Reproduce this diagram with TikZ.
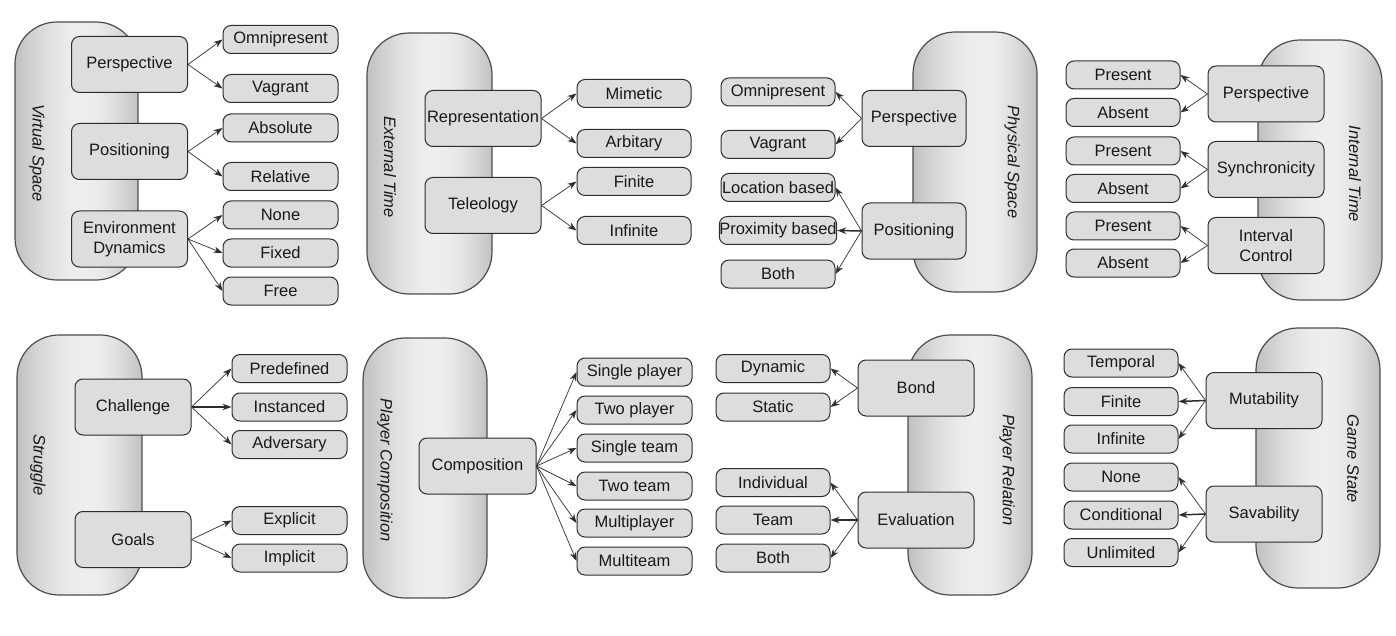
\documentclass[tikz,border=0pt]{standalone}
\usepackage{fontspec}
\setmainfont{Liberation Sans}
\usetikzlibrary{arrows.meta,calc}
\definecolor{boxfill}{RGB}{221,221,221}
\definecolor{edgec}{RGB}{45,45,45}
\definecolor{pillL}{RGB}{192,192,192}
\definecolor{pillM}{RGB}{238,238,238}
\definecolor{pillR}{RGB}{194,194,194}
\newcommand\pillstrips{%
  \coordinate (pbA) at (path picture bounding box.south west);
  \coordinate (pbB) at (path picture bounding box.south east);
  \coordinate (pbC) at (path picture bounding box.north west);
  \coordinate (pbD) at (path picture bounding box.north east);
  \foreach \i in {0,...,61}{%
    \pgfmathsetmacro\tA{\i/62}%
    \pgfmathsetmacro\tB{(\i+1.6)/62}%
    \pgfmathsetmacro\tM{(\i+0.5)/62}%
    \pgfmathsetmacro\wt{\tM<0.56 ? 100*sin(90*\tM/0.56) : 100*cos(90*(\tM-0.56)/0.44)}%
    \pgfmathsetmacro\sd{\tM<0.56 ? 0 : 1}%
    \ifdim\sd pt<0.5pt \colorlet{stripc}{pillM!\wt!pillL}\else\colorlet{stripc}{pillM!\wt!pillR}\fi
    \fill[stripc, sharp corners] ($(pbA)!\tA!(pbB)$) rectangle ($(pbC)!\tB!(pbD)$);
  }}
\begin{document}
\begin{tikzpicture}[x=1pt,y=-1pt,
  font=\fontsize{16.5}{19.5}\selectfont,
  pill/.style={draw=edgec!85, line width=1.2pt, rounded corners=42pt, inner sep=0pt,
    path picture={\pillstrips}},
  vlabel/.style={rotate=-90, font=\fontsize{16.5}{19.5}\selectfont\itshape, text=black!90},
  parent/.style={draw=edgec, fill=boxfill, line width=1pt, rounded corners=8pt,
    minimum width=116pt, minimum height=56pt, inner sep=0pt, align=center, text=black!90},
  child/.style={draw=edgec, fill=boxfill, line width=1pt, rounded corners=8pt,
    minimum width=115pt, minimum height=28pt, inner sep=0pt, text=black!90},
  arr/.style={draw=edgec, line width=0.7pt, -{Stealth[length=9pt,width=6.5pt]}},
  harr/.style={arr, line width=1.5pt}
]
\useasboundingbox (0,0) rectangle (1396,636);

% ---------------- Panel 1: Virtual Space
\node[pill, minimum width=123pt, minimum height=258pt] (vsp) at (76.5,151) {};
\node[vlabel] (vsl) at (37,153) {Virtual Space};
\node[parent] (vsa) at (129.5,64.5) {Perspective};
\node[parent] (vsb) at (129.5,151.5) {Positioning};
\node[parent] (vsc) at (129.5,239) {Environment\\Dynamics};
\node[child] (vs1) at (280.5,39.5) {Omnipresent};
\node[child] (vs2) at (280.5,88.5) {Vagrant};
\node[child] (vs3) at (280.5,128) {Absolute};
\node[child] (vs4) at (280.5,176.5) {Relative};
\node[child] (vs5) at (280.5,215) {None};
\node[child] (vs6) at (280.5,253) {Fixed};
\node[child] (vs7) at (280.5,291) {Free};
\draw[arr] (vsa.east) -- (vs1.west);
\draw[arr] (vsa.east) -- (vs2.west);
\draw[arr] (vsb.east) -- (vs3.west);
\draw[arr] (vsb.east) -- (vs4.west);
\draw[arr] (vsc.east) -- (vs5.west);
\draw[arr] (vsc.east) -- (vs6.west);
\draw[arr] (vsc.east) -- (vs7.west);

% ---------------- Panel 2: External Time
\node[pill, minimum width=125pt, minimum height=261pt] (etp) at (429.5,163.5) {};
\node[vlabel] (etl) at (390,167) {External Time};
\node[parent] (eta) at (483,118.5) {Representation};
\node[parent] (etb) at (483,205.5) {Teleology};
\node[child, minimum width=114pt] (et1) at (634,93.5) {Mimetic};
\node[child, minimum width=114pt] (et2) at (634,143.5) {Arbitary};
\node[child, minimum width=114pt] (et3) at (634,181.5) {Finite};
\node[child, minimum width=114pt] (et4) at (634,230.5) {Infinite};
\draw[arr] (eta.east) -- (et1.west);
\draw[arr] (eta.east) -- (et2.west);
\draw[arr] (etb.east) -- (et3.west);
\draw[arr] (etb.east) -- (et4.west);

% ---------------- Panel 3: Physical Space
\node[pill, minimum width=124pt, minimum height=260pt] (psp) at (975,162) {};
\node[vlabel] (psl) at (1012,162) {Physical Space};
\node[parent, minimum width=104pt] (psa) at (914,118.5) {Perspective};
\node[parent, minimum width=104pt] (psb) at (914,231) {Positioning};
\node[child, minimum width=114pt] (ps1) at (778,92) {Omnipresent};
\node[child, minimum width=114pt] (ps2) at (778,144.5) {Vagrant};
\node[child, minimum width=114pt] (ps3) at (778,187.5) {Location based};
\node[child, minimum width=114pt] (ps4) at (778,230.5) {Proximity based};
\node[child, minimum width=114pt] (ps5) at (778,274) {Both};
\draw[arr] (psa.west) -- (ps1.east);
\draw[arr] (psa.west) -- (ps2.east);
\draw[arr] (psb.west) -- (ps3.east);
\draw[harr] (psb.west) -- (ps4.east);
\draw[arr] (psb.west) -- (ps5.east);

% ---------------- Panel 4: Internal Time
\node[pill, minimum width=124pt, minimum height=260pt] (itp) at (1320,170) {};
\node[vlabel] (itl) at (1355,174) {Internal Time};
\node[parent] (ita) at (1266,94) {Perspective};
\node[parent] (itb) at (1266,169.5) {Synchronicity};
\node[parent] (itc) at (1266,245.5) {Interval\\Control};
\node[child, minimum width=114pt] (it1) at (1123,75) {Present};
\node[child, minimum width=114pt] (it2) at (1123,112.5) {Absent};
\node[child, minimum width=114pt] (it3) at (1123,151) {Present};
\node[child, minimum width=114pt] (it4) at (1123,188.5) {Absent};
\node[child, minimum width=114pt] (it5) at (1123,226) {Present};
\node[child, minimum width=114pt] (it6) at (1123,263) {Absent};
\draw[arr] (ita.west) -- (it1.east);
\draw[arr] (ita.west) -- (it2.east);
\draw[arr] (itb.west) -- (it3.east);
\draw[arr] (itb.west) -- (it4.east);
\draw[arr] (itc.west) -- (it5.east);
\draw[arr] (itc.west) -- (it6.east);

% ---------------- Panel 5: Struggle
\node[pill, minimum width=125pt, minimum height=260pt] (stp) at (79.5,465) {};
\node[vlabel] (stl) at (38,465) {Struggle};
\node[parent] (sta) at (133,407) {Challenge};
\node[parent] (stb) at (133,539.5) {Goals};
\node[child] (st1) at (289.5,368.5) {Predefined};
\node[child] (st2) at (289.5,407) {Instanced};
\node[child] (st3) at (289.5,444.5) {Adversary};
\node[child] (st4) at (289.5,520.5) {Explicit};
\node[child] (st5) at (289.5,558) {Implicit};
\draw[arr] (sta.east) -- (st1.west);
\draw[harr] (sta.east) -- (st2.west);
\draw[arr] (sta.east) -- (st3.west);
\draw[arr] (stb.east) -- (st4.west);
\draw[arr] (stb.east) -- (st5.west);

% ---------------- Panel 6: Player Composition
\node[pill, minimum width=124pt, minimum height=260pt] (pcp) at (425,468) {};
\node[vlabel] (pcl) at (385,470) {Player Composition};
\node[parent, minimum width=117pt] (pca) at (477.5,466) {Composition};
\node[child] (pc1) at (634.5,372) {Single player};
\node[child] (pc2) at (634.5,410) {Two player};
\node[child] (pc3) at (634.5,448) {Single team};
\node[child] (pc4) at (634.5,486) {Two team};
\node[child] (pc5) at (634.5,523) {Multiplayer};
\node[child] (pc6) at (634.5,561) {Multiteam};
\draw[arr] (pca.east) -- (pc1.west);
\draw[arr] (pca.east) -- (pc2.west);
\draw[arr] (pca.east) -- (pc3.west);
\draw[arr] (pca.east) -- (pc4.west);
\draw[arr] (pca.east) -- (pc5.west);
\draw[arr] (pca.east) -- (pc6.west);

% ---------------- Panel 7: Player Relation
\node[pill, minimum width=124pt, minimum height=260pt] (prp) at (970,465) {};
\node[vlabel] (prl) at (1007,470) {Player Relation};
\node[parent] (pra) at (916,388) {Bond};
\node[parent] (prb) at (916,520) {Evaluation};
\node[child, minimum width=114pt] (pr1) at (773,368.5) {Dynamic};
\node[child, minimum width=114pt] (pr2) at (773,407) {Static};
\node[child, minimum width=114pt] (pr3) at (773,482.5) {Individual};
\node[child, minimum width=114pt] (pr4) at (773,520) {Team};
\node[child, minimum width=114pt] (pr5) at (773,558) {Both};
\draw[arr] (pra.west) -- (pr1.east);
\draw[arr] (pra.west) -- (pr2.east);
\draw[arr] (prb.west) -- (pr3.east);
\draw[harr] (prb.west) -- (pr4.east);
\draw[arr] (prb.west) -- (pr5.east);

% ---------------- Panel 8: Game State
\node[pill, minimum width=124pt, minimum height=260pt] (gsp) at (1318,458) {};
\node[vlabel] (gsl) at (1353,459) {Game State};
\node[parent] (gsa) at (1264,400.5) {Mutability};
\node[parent] (gsb) at (1264,514) {Savability};
\node[child, minimum width=114pt] (gs1) at (1121,363) {Temporal};
\node[child, minimum width=114pt] (gs2) at (1121,401.5) {Finite};
\node[child, minimum width=114pt] (gs3) at (1121,439) {Infinite};
\node[child, minimum width=114pt] (gs4) at (1121,477) {None};
\node[child, minimum width=114pt] (gs5) at (1121,515) {Conditional};
\node[child, minimum width=114pt] (gs6) at (1121,552.5) {Unlimited};
\draw[arr] (gsa.west) -- (gs1.east);
\draw[harr] (gsa.west) -- (gs2.east);
\draw[arr] (gsa.west) -- (gs3.east);
\draw[arr] (gsb.west) -- (gs4.east);
\draw[harr] (gsb.west) -- (gs5.east);
\draw[arr] (gsb.west) -- (gs6.east);
\end{tikzpicture}
\end{document}
